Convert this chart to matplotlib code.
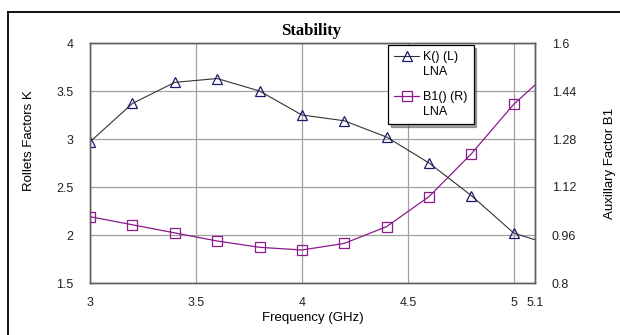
import matplotlib
matplotlib.use("Agg")
import matplotlib.pyplot as plt
from matplotlib.lines import Line2D
from matplotlib.legend_handler import HandlerLine2D

# Data
freq = [3.0, 3.2, 3.4, 3.6, 3.8, 4.0, 4.2, 4.4, 4.6, 4.8, 5.0, 5.1]
k_vals = [2.97, 3.37, 3.59, 3.63, 3.50, 3.25, 3.19, 3.02, 2.75, 2.41, 2.02, 1.95]
b1_vals = [1.021, 0.994, 0.967, 0.940, 0.919, 0.910, 0.932, 0.988, 1.088, 1.231, 1.396, 1.46]
x_ticks = [3, 3.5, 4, 4.5, 5, 5.1]
x_tick_labels = ["3", "3.5", "4", "4.5", "5", "5.1"]
left_ticks = [1.5, 2, 2.5, 3, 3.5, 4]
left_tick_labels = ["1.5", "2", "2.5", "3", "3.5", "4"]
right_ticks = [0.8, 0.96, 1.12, 1.28, 1.44, 1.6]
right_tick_labels = ["0.8", "0.96", "1.12", "1.28", "1.44", "1.6"]
k_label = "K() (L)\nLNA"
b1_label = "B1() (R)\nLNA"

plt.rcParams['font.family'] = ['Liberation Sans', 'DejaVu Sans']

fig = plt.figure(figsize=(6.2, 3.35), dpi=100)
ax = fig.add_axes([90/620, 1-283/335, 445/620, 240/335])
ax2 = ax.twinx()

fs = 9
fl = 9.5
k_col = '#333333'
k_mk = '#1a1a6e'
b_col = '#8b1a8b'

n_mark = 11
ms = 6.5
ax.plot(freq, k_vals, color=k_col, lw=0.8, marker='^', markevery=list(range(n_mark)),
        markersize=ms, markerfacecolor='none', markeredgecolor=k_mk, markeredgewidth=0.9, zorder=3)
ax2.plot(freq, b1_vals, color=b_col, lw=0.9, marker='s', markevery=list(range(n_mark)),
         markersize=ms, markerfacecolor='none', markeredgecolor=b_col, markeredgewidth=0.9, zorder=3)

ax.set_xlim(3, 5.1)
ax.set_ylim(1.5, 4)
ax2.set_ylim(0.8, 1.6)
ax.set_xticks(x_ticks)
ax.set_xticklabels(x_tick_labels, fontsize=fs)
ax.set_yticks(left_ticks)
ax.set_yticklabels(left_tick_labels, fontsize=fs)
ax2.set_yticks(right_ticks)
ax2.set_yticklabels(right_tick_labels, fontsize=fs)

ax.tick_params(axis='both', length=0, pad=12, colors='#222222')
ax.tick_params(axis='x', pad=10)
ax2.tick_params(axis='y', length=0, pad=12, colors='#222222')

ax.grid(True, color='#a0a0a0', lw=0.9)
ax.set_axisbelow(True)
for a in (ax, ax2):
    for s in a.spines.values():
        s.set_color('#606060')
        s.set_linewidth(1.0)

ax.set_xlabel("Frequency (GHz)", fontsize=fl, labelpad=2)
ax.set_ylabel("Rollets Factors K", fontsize=fl, labelpad=15)
ax.yaxis.label.set_y((283 - 141) / 240)
ax2.set_ylabel("Auxillary Factor B1", fontsize=fl, labelpad=20)

fig.text(311/620, 1-31/335, "Stability", fontsize=12, fontweight='bold',
         family=['Liberation Serif', 'DejaVu Serif'], ha='center', va='center')


class HandlerTop(HandlerLine2D):
    """Place the legend handle next to the first line of a two-line label."""
    def create_artists(self, legend, orig_handle, xdescent, ydescent, width, height,
                       fontsize, trans):
        arts = super().create_artists(legend, orig_handle, xdescent, ydescent,
                                      width, height, fontsize, trans)
        shift = 0.72 * fontsize
        for a in arts:
            y = a.get_ydata()
            a.set_ydata([v + shift for v in y])
        return arts


h1 = Line2D([], [], color=k_col, lw=0.8, marker='^', markersize=ms, markerfacecolor='none',
            markeredgecolor=k_mk, markeredgewidth=0.9)
h2 = Line2D([], [], color=b_col, lw=0.9, marker='s', markersize=ms, markerfacecolor='none',
            markeredgecolor=b_col, markeredgewidth=0.9)
leg = ax2.legend([h1, h2], [k_label, b1_label], loc='upper left',
                 bbox_to_anchor=((388-90)/445, (283-45)/240), fontsize=fs,
                 frameon=True, fancybox=False, shadow=True, handlelength=2.0,
                 handletextpad=0.3, borderpad=0.5, labelspacing=1.0, borderaxespad=0,
                 handler_map={Line2D: HandlerTop()})
leg.get_frame().set_edgecolor('black')
leg.get_frame().set_linewidth(0.9)
for t in leg.get_texts():
    t.set_linespacing(1.35)

# Outer document frame (open at bottom and right)
fig.add_artist(Line2D([8/620, 8/620], [0, 1-12/335], transform=fig.transFigure,
                      color='black', lw=1.3))
fig.add_artist(Line2D([8/620, 1], [1-12/335, 1-12/335], transform=fig.transFigure,
                      color='black', lw=1.3))

fig.savefig("out.png", dpi=100)
